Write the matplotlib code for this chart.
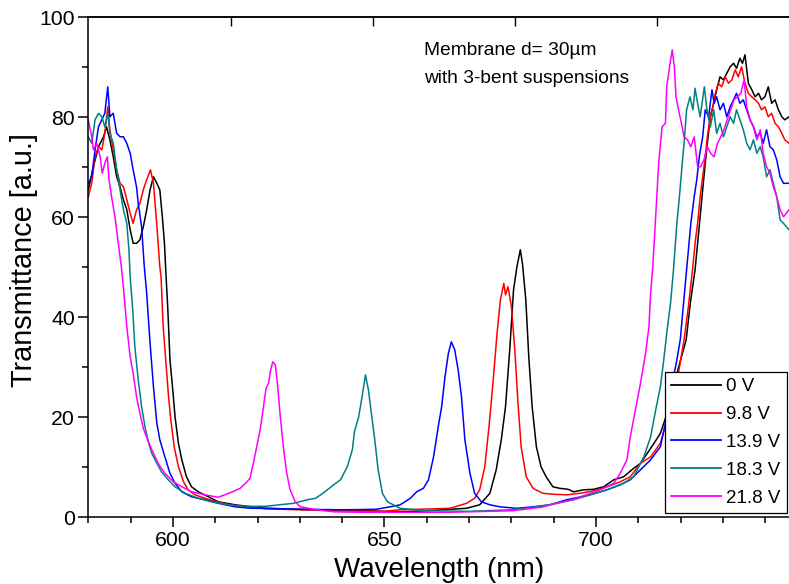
import matplotlib
matplotlib.use("Agg")
import matplotlib.pyplot as plt
from matplotlib.ticker import MultipleLocator

plt.rcParams["font.family"] = ["Liberation Sans", "DejaVu Sans"]

# ---- transmittance spectra (wavelength in nm, transmittance in a.u.) ----
wl_0V = [580, 581.2, 582.4, 583.6, 584.3, 585.1, 585.9, 586.7, 587.5, 588.3, 589.1, 589.9,
         590.6, 591.4, 592.2, 593.0, 593.8, 594.6, 595.4, 596.2, 596.9, 597.5, 598.0, 598.3,
         598.8, 599.3, 599.9, 600.5, 601.3, 602.1, 603.2, 604.4, 606.0, 608.4, 610.7, 614.7,
         618.6, 621.8, 630, 640, 650, 653.7, 660, 665.5, 669.4, 672.5, 674.9, 676.4, 677.6,
         678.6, 679.6, 680.5, 681.3, 682.1, 682.6, 683.4, 684.1, 684.9, 685.9, 687.0, 688.2,
         689.8, 691.4, 693.4, 694.7, 697.1, 699.4, 701.8, 704.2, 706.5, 708.9, 710.5, 712.1,
         713.7, 715.2, 716.8, 718.0, 719.5, 721.3, 722.3, 723.4, 724.0, 724.6, 725.2, 725.8,
         726.3, 727.0, 727.8, 728.5, 729.3, 730.1, 730.9, 731.7, 732.5, 733.2, 734.0, 734.6,
         735.2, 736.0, 736.8, 737.6, 738.4, 739.1, 739.9, 740.7, 741.5, 742.3, 743.1, 743.9,
         744.6, 745.6]
T_0V = [65.5, 70.1, 74.1, 76.1, 78.1, 75.5, 72.1, 68.1, 66.1, 63.5, 61.5, 57.5,
        54.8, 54.8, 55.5, 58.1, 61.5, 65.5, 68.1, 66.8, 65.5, 60.1, 54.8, 49.5,
        41.5, 31.5, 26.1, 20.1, 14.8, 11.5, 8.1, 6.1, 5.1, 4.1, 3.1, 2.5,
        2.1, 1.8, 1.6, 1.4, 1.2, 1.1, 1.3, 1.6, 1.8, 2.5, 4.8, 9.5, 15.5,
        22.1, 33.5, 45.5, 50.1, 53.5, 50.8, 43.5, 32.1, 22.1, 14.1, 10.1, 8.1,
        6.1, 5.8, 5.6, 5.1, 5.5, 5.6, 6.1, 7.5, 8.1, 9.8, 10.8, 12.8,
        14.8, 16.8, 20.8, 25.0, 30.0, 35.5, 43.0, 49.5, 54.8, 60.1, 65.5, 70.8,
        74.8, 80.1, 82.8, 85.5, 88.1, 87.5, 88.8, 90.1, 90.8, 89.8, 91.8, 90.8,
        92.5, 86.8, 85.5, 84.1, 84.8, 83.5, 84.1, 86.1, 82.8, 83.5, 81.5, 80.1,
        79.5, 80.1]

wl_9V8 = [580, 580.8, 581.6, 582.4, 583.2, 583.9, 584.6, 585.1, 585.9, 586.7, 587.5, 588.3,
          589.1, 589.9, 590.6, 591.4, 592.2, 593.0, 593.8, 594.7, 595.4, 595.9, 596.4, 596.9,
          597.2, 597.7, 598.3, 598.9, 599.5, 600.3, 601.3, 602.5, 603.6, 605.2, 607.6, 610.7,
          614.7, 618.6, 621.8, 630, 640, 650, 653.7, 665.5, 669.4, 671.3, 672.5, 673.7, 674.7,
          675.7, 676.6, 677.4, 678.2, 678.6, 679.2, 680.0, 680.8, 681.5, 682.3, 683.5, 685.1,
          687.4, 690.0, 693.1, 696.3, 699.4, 702.6, 705.7, 708.1, 710.5, 712.9, 715.2, 716.8,
          718.0, 719.5, 720.8, 721.8, 722.8, 723.4, 724.0, 724.6, 725.2, 725.8, 726.3, 727.0,
          727.6, 728.2, 728.9, 729.7, 730.5, 731.3, 732.1, 732.9, 733.6, 734.4, 735.2, 736.0,
          736.8, 737.6, 738.4, 739.1, 739.9, 740.7, 741.5, 742.3, 743.1, 743.9, 744.6, 745.6]
T_9V8 = [64.1, 66.8, 72.1, 74.1, 73.5, 76.8, 82.1, 77.5, 73.5, 69.5, 66.8, 66.1,
         63.5, 60.8, 58.8, 61.5, 62.8, 65.5, 67.5, 69.5, 66.8, 61.5, 56.1, 50.1,
         48.1, 38.1, 31.5, 24.8, 19.5, 14.1, 10.1, 7.1, 5.5, 4.5, 3.8, 3.0,
         2.3, 2.0, 1.7, 1.5, 1.3, 1.2, 1.5, 1.8, 2.8, 3.8, 5.5, 10.1, 18.1,
         27.5, 36.8, 43.5, 46.8, 44.5, 46.1, 42.1, 33.5, 23.5, 14.1, 8.1, 5.8,
         4.8, 4.6, 4.5, 4.8, 5.3, 6.1, 7.1, 8.1, 10.8, 12.1, 14.8, 19.5,
         24.0, 29.0, 35.5, 42.0, 49.5, 54.8, 58.8, 64.1, 68.1, 72.1, 76.1, 80.1,
         82.1, 84.8, 86.8, 86.1, 88.1, 86.8, 87.5, 89.5, 88.1, 90.1, 86.8, 84.8,
         84.1, 83.5, 82.8, 81.5, 82.1, 80.1, 80.8, 78.8, 78.1, 76.8, 75.5, 74.8]

wl_13V9 = [580, 580.8, 581.6, 582.4, 583.2, 583.9, 584.6, 585.1, 585.9, 586.7, 587.5, 588.3,
           589.1, 589.9, 590.6, 591.4, 591.8, 592.6, 593.2, 593.8, 594.6, 595.4, 596.2, 596.9,
           598.1, 599.3, 600.5, 602.1, 604.4, 607.6, 610.7, 614.7, 618.6, 621.8, 630, 640,
           648, 652, 653.7, 656.1, 657.6, 659.2, 660.4, 661.6, 662.7, 663.5, 664.3, 665.1,
           665.8, 666.6, 667.4, 668.2, 669.0, 670.2, 671.3, 672.9, 674.9, 677.3, 681.2, 685.2,
           689.1, 693.0, 694.7, 698.6, 702.6, 705.7, 708.1, 710.5, 712.9, 715.2, 716.8, 718.0,
           719.0, 719.9, 720.7, 721.4, 722.4, 723.2, 723.8, 724.4, 725.2, 725.8, 726.6, 727.4,
           727.9, 728.5, 729.3, 730.1, 730.9, 731.7, 732.5, 733.2, 734.0, 734.8, 735.6, 736.4,
           737.2, 738.0, 738.8, 739.5, 740.3, 741.1, 741.9, 742.7, 743.5, 744.3, 745.6]
T_13V9 = [66.8, 68.1, 73.5, 78.1, 79.5, 80.8, 86.1, 80.1, 80.8, 76.8, 76.1, 76.1,
          74.8, 72.8, 69.5, 66.1, 62.8, 58.1, 50.5, 44.8, 34.8, 26.1, 18.8, 15.5,
          12.1, 8.8, 6.8, 5.1, 4.1, 3.5, 2.8, 2.1, 1.8, 1.8, 1.6, 1.5,
          1.6, 2.2, 2.5, 3.8, 5.1, 5.8, 7.5, 12.1, 18.1, 22.1, 28.1, 32.8,
          35.1, 33.5, 29.5, 24.1, 15.5, 8.8, 4.8, 3.1, 2.5, 2.1, 1.8, 2.1,
          2.5, 3.5, 3.8, 4.5, 5.5, 6.5, 7.5, 9.5, 11.5, 14.1, 20.5, 27.0,
          31.0, 35.5, 43.0, 49.5, 58.8, 64.1, 67.5, 72.1, 76.1, 81.5, 80.1, 85.5,
          82.8, 84.1, 81.5, 82.8, 80.1, 82.1, 83.5, 84.8, 82.8, 83.5, 81.5, 79.5,
          78.1, 76.1, 76.8, 74.8, 77.5, 74.1, 73.5, 71.5, 68.1, 66.8, 66.8]

wl_18V3 = [580, 580.8, 581.6, 582.4, 583.2, 583.9, 584.6, 585.1, 585.9, 586.7, 587.5, 588.3,
           589.1, 589.6, 589.9, 590.5, 591.0, 591.8, 592.6, 593.4, 594.2, 595.0, 596.2, 597.3,
           598.9, 600.5, 602.9, 606.0, 609.1, 613.1, 617.0, 621.8, 628.5, 631.7, 633.7, 635.6,
           638.0, 639.6, 641.2, 642.4, 642.9, 643.9, 644.7, 645.5, 646.2, 646.9, 647.7, 648.5,
           649.5, 650.7, 653.7, 660, 670, 680, 687, 694.7, 702.6, 706.5, 708.9, 711.3,
           712.9, 714.1, 715.2, 716.0, 716.8, 717.6, 718.3, 719.1, 719.7, 720.3, 720.8, 721.4,
           722.2, 722.9, 723.4, 724.0, 724.6, 725.6, 726.2, 727.0, 727.8, 728.5, 729.3, 730.1,
           730.9, 731.7, 732.5, 733.2, 734.0, 734.8, 735.6, 736.4, 737.2, 738.0, 738.8, 739.5,
           740.3, 741.1, 741.9, 742.7, 743.5, 744.3, 745.6]
T_18V3 = [76.1, 74.8, 79.5, 80.8, 80.1, 78.1, 80.8, 76.8, 74.8, 69.5, 65.5, 61.5,
          58.8, 53.5, 48.1, 41.5, 34.1, 27.5, 22.1, 18.1, 15.1, 12.8, 10.8, 9.1,
          7.5, 6.1, 4.8, 3.8, 3.1, 2.5, 2.2, 2.2, 2.8, 3.5, 3.8, 4.9,
          6.5, 7.5, 10.1, 13.5, 17.1, 20.1, 24.1, 28.5, 25.5, 20.8, 15.5, 9.5,
          4.8, 3.1, 1.8, 1.3, 1.2, 1.5, 2.2, 3.5, 5.5, 6.8, 8.1, 12.1,
          16.1, 21.5, 26.1, 31.5, 37.5, 42.8, 49.5, 58.8, 64.1, 70.1, 74.8, 81.5,
          84.1, 81.5, 85.8, 82.8, 80.1, 86.1, 81.5, 78.1, 81.5, 76.8, 78.8, 76.1,
          78.1, 80.1, 78.8, 81.5, 79.5, 77.5, 74.8, 73.5, 75.5, 72.8, 74.1, 72.1,
          68.1, 69.5, 66.8, 64.1, 59.5, 58.8, 57.5]

wl_21V8 = [580, 580.8, 581.2, 582.0, 582.8, 583.3, 583.9, 584.5, 584.9, 585.5, 586.3, 587.1,
           587.7, 587.9, 588.5, 589.1, 589.9, 590.6, 591.4, 592.2, 593.0, 594.2, 595.4, 596.5,
           598.1, 600.1, 602.1, 604.4, 607.6, 610.7, 613.5, 615.9, 617.5, 618.2, 619.0, 619.8,
           620.6, 621.4, 622.0, 622.6, 623.1, 623.6, 624.2, 624.7, 625.3, 626.1, 626.9, 627.7,
           628.9, 630.1, 634.0, 638.0, 645, 653.7, 665, 680, 687, 694.7, 701.0, 704.2,
           705.7, 707.3, 708.1, 709.3, 710.5, 711.7, 712.5, 712.9, 713.4, 714.0, 714.8, 715.6,
           716.4, 716.7, 717.5, 718.0, 718.5, 718.9, 719.5, 720.0, 720.8, 721.6, 722.4, 723.2,
           724.0, 724.7, 725.5, 726.3, 727.1, 727.9, 728.7, 729.5, 730.2, 731.0, 731.8, 732.6,
           733.4, 734.2, 735.0, 735.6, 736.4, 737.2, 738.0, 738.8, 739.5, 740.3, 741.1, 741.9,
           742.7, 743.5, 744.3, 745.6]
T_21V8 = [79.5, 76.1, 73.5, 74.8, 72.1, 68.8, 70.8, 72.1, 67.5, 64.1, 60.1, 54.8,
          50.8, 49.5, 44.1, 38.1, 32.1, 28.8, 24.1, 20.8, 17.8, 15.1, 12.8, 10.8,
          8.8, 7.1, 6.1, 5.1, 4.5, 4.0, 4.9, 5.8, 7.1, 7.8, 10.8, 14.1,
          17.5, 22.1, 25.8, 26.8, 29.5, 31.1, 30.5, 26.8, 20.8, 14.1, 8.8, 5.5,
          3.1, 2.1, 1.5, 1.1, 1.0, 1.0, 1.0, 1.3, 2.0, 3.6, 5.5, 6.8,
          8.8, 11.5, 16.1, 21.5, 26.8, 32.8, 38.1, 44.8, 50.0, 58.8, 70.8, 78.1,
          78.8, 86.1, 90.8, 93.5, 90.1, 84.1, 81.5, 79.5, 76.1, 75.5, 74.1, 76.1,
          70.1, 70.1, 71.5, 74.1, 72.8, 72.1, 74.8, 76.1, 77.5, 79.5, 81.5, 83.5,
          84.1, 84.8, 87.5, 82.1, 79.5, 78.1, 75.5, 77.5, 72.8, 70.1, 68.8, 66.1,
          64.1, 61.5, 60.1, 61.5]

series_labels = ["0 V", "9.8 V", "13.9 V", "18.3 V", "21.8 V"]
series_colors = ["#000000", "#ff0000", "#0000ff", "#008080", "#ff00ff"]
series_wl = [wl_0V, wl_9V8, wl_13V9, wl_18V3, wl_21V8]
series_T = [T_0V, T_9V8, T_13V9, T_18V3, T_21V8]

top_ticks = [613.7, 647.2, 680.8, 714.3]

# ---- figure ----
W, H = 789, 584
fig = plt.figure(figsize=(W / 100, H / 100), dpi=100)
x0, x1, y0, y1 = 88.3, 789.0, 17.3, 517.3
ax = fig.add_axes([x0 / W, 1 - y1 / H, (x1 - x0) / W, (y1 - y0) / H])

for wl, T, lab, col in zip(series_wl, series_T, series_labels, series_colors):
    ax.plot(wl, T, color=col, lw=1.1, label=lab)

ax.set_xlim(580, 745.6)
ax.set_ylim(0, 100)
ax.xaxis.set_major_locator(MultipleLocator(50))
ax.xaxis.set_minor_locator(MultipleLocator(10))
ax.yaxis.set_major_locator(MultipleLocator(20))
ax.yaxis.set_minor_locator(MultipleLocator(10))

for s in ("left", "bottom", "top"):
    ax.spines[s].set_linewidth(1.1)
ax.spines["right"].set_visible(False)

ax.tick_params(which="major", direction="out", length=7.2, width=1.1,
               labelsize=15.3, pad=2.5)
ax.tick_params(which="minor", direction="out", length=4.0, width=1.1)
ax.tick_params(top=False, right=False, which="both")

top = ax.secondary_xaxis("top")
top.set_xticks(top_ticks)
top.set_xticklabels([])
top.tick_params(direction="in", length=6.5, width=1.0)
top.spines["top"].set_linewidth(1.1)

ax.set_xlabel("Wavelength (nm)", fontsize=20)
ax.set_ylabel("Transmittance [a.u.]", fontsize=20.8)
ax.xaxis.set_label_coords(0.501, -0.080)
ax.yaxis.set_label_coords(-0.072, 0.515)

ax.text(659.4, 92.5, "Membrane d= 30\u00b5m", fontsize=13.8, va="baseline", ha="left")
ax.text(659.4, 86.9, "with 3-bent suspensions", fontsize=13.8, va="baseline", ha="left")

leg = ax.legend(loc="upper right", bbox_to_anchor=(786.7 / W, 1 - 371.7 / H),
                bbox_transform=fig.transFigure, fontsize=13.5, frameon=True,
                fancybox=False, edgecolor="black", framealpha=1,
                handlelength=2.65, handletextpad=0.25, labelspacing=0.57,
                borderpad=0.35, borderaxespad=0)
leg.get_frame().set_linewidth(0.9)
for h in leg.get_lines():
    h.set_linewidth(1.3)

fig.savefig("out.png", dpi=100)
